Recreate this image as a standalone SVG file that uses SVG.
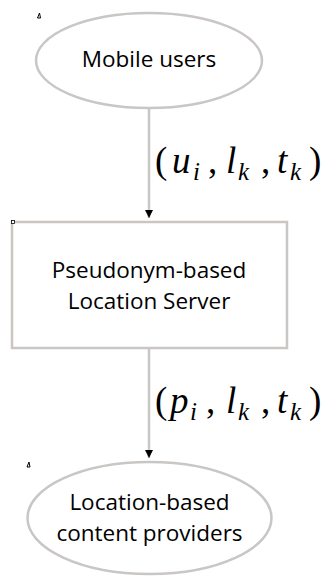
<svg xmlns="http://www.w3.org/2000/svg" width="327" height="577" viewBox="0 0 327 577">
<style>
.node{fill:#ffffff;stroke:#c9c6c4;stroke-width:2.5}
.lbl{font-family:"Open Sans","Noto Sans",sans-serif;font-size:22.5px;fill:#000;text-anchor:middle}
.edge{stroke:#c9c6c4;stroke-width:2.5;fill:none}
.math{font-family:"Liberation Serif","DejaVu Serif",serif;font-size:37px;fill:#000}
.it{font-style:italic}
.sub{font-size:25px;font-style:italic}
.mark{fill:none;stroke:#000;stroke-width:1}
</style>
<defs>
<marker id="ah" viewBox="0 0 10 10" refX="10" refY="5" markerWidth="8" markerHeight="8" markerUnits="userSpaceOnUse" orient="auto">
<path d="M0,0 L10,5 L0,10 z" fill="#000"/>
</marker>
</defs>
<rect width="327" height="577" fill="#ffffff"/>
<g id="connectors">
<line class="edge" x1="149" y1="108" x2="149" y2="218" marker-end="url(#ah)"/>
<line class="edge" x1="149" y1="348" x2="149" y2="458" marker-end="url(#ah)"/>
<text class="math" y="173"><tspan x="155">(</tspan><tspan class="it" x="172">u</tspan><tspan class="sub" x="193" y="180">i</tspan><tspan x="208" y="173">,</tspan><tspan class="it" x="226">l</tspan><tspan class="sub" x="238" y="180">k</tspan><tspan x="261" y="173">,</tspan><tspan class="it" x="277">t</tspan><tspan class="sub" x="290" y="180">k</tspan><tspan x="309" y="173">)</tspan></text>
<text class="math" y="413"><tspan x="155">(</tspan><tspan class="it" x="170">p</tspan><tspan class="sub" x="190" y="420">i</tspan><tspan x="206" y="413">,</tspan><tspan class="it" x="226">l</tspan><tspan class="sub" x="238" y="420">k</tspan><tspan x="261" y="413">,</tspan><tspan class="it" x="277">t</tspan><tspan class="sub" x="290" y="420">k</tspan><tspan x="309" y="413">)</tspan></text>
</g>
<g id="mobile-users">
<ellipse class="node" cx="149" cy="60.5" rx="113" ry="47.5"/>
<text class="lbl" x="149" y="67">Mobile users</text>
<path class="mark" d="M37.5,18 L39.5,13 L40.5,18 z"/>
</g>
<g id="location-server">
<rect class="node" x="12" y="222" width="275" height="126"/>
<text class="lbl" x="149" y="278">Pseudonym-based</text>
<text class="lbl" x="149" y="309">Location Server</text>
<rect x="11.5" y="220.5" width="3" height="3" fill="#fff" stroke="#000" stroke-width="0.8"/>
</g>
<g id="content-providers">
<ellipse class="node" cx="149.5" cy="518" rx="122" ry="56"/>
<text class="lbl" x="149.5" y="510">Location-based</text>
<text class="lbl" x="149.5" y="541">content providers</text>
<path class="mark" d="M27,467 L29,462 L30,467 z"/>
</g>
</svg>
